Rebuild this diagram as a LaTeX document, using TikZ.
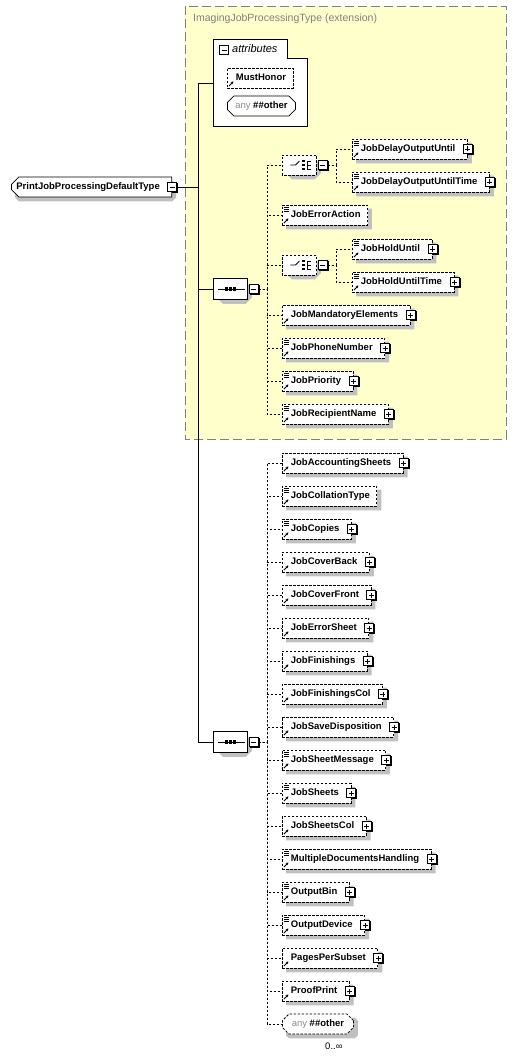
\documentclass[tikz,border=0pt]{standalone}
\usepackage{fontspec}
\setmainfont{Liberation Sans}
\usetikzlibrary{shapes.misc,arrows.meta}

\definecolor{extfill}{RGB}{255,255,204}
\definecolor{extline}{RGB}{128,128,128}
\definecolor{shadowgray}{RGB}{192,192,192}
\definecolor{anygray}{RGB}{140,140,140}

\pgfdeclarelayer{back}
\pgfdeclarelayer{shadow}
\pgfsetlayers{back,shadow,main}

\newcommand{\elemfont}{\fontsize{9.5}{11}\selectfont\bfseries}

\begin{document}
\begin{tikzpicture}[ x=1pt, y=-1pt,
  conn/.style={line width=0.8pt},
  dconn/.style={line width=0.8pt, dash pattern=on 2.5pt off 1.5pt},
  pmbox/.style={draw, solid, line width=0.8pt, fill=white, minimum size=9pt, inner sep=0pt},
  minusbox/.style={pmbox, path picture={\draw[solid, black, line width=0.8pt] ([xshift=2pt]path picture bounding box.west) -- ([xshift=-2pt]path picture bounding box.east);}},
  plusbox/.style={pmbox, path picture={\draw[solid, black, line width=0.8pt] ([xshift=2pt]path picture bounding box.west) -- ([xshift=-2pt]path picture bounding box.east)
      ([yshift=2pt]path picture bounding box.south) -- ([yshift=-2pt]path picture bounding box.north);}},
  refarrow/.style={path picture={\draw[solid, black, line width=0.9pt,-{Stealth[length=2.6pt,width=3pt]}] ([shift={(1.5,-2)}]path picture bounding box.south west) -- ++(4.5,-4.5);}},
  simparrow/.style={path picture={\draw[solid, black, line width=0.9pt,-{Stealth[length=2.6pt,width=3pt]}] ([shift={(1.5,-2)}]path picture bounding box.south west) -- ++(4.5,-4.5);
      \foreach \k in {2,4,6} \draw[solid, black, line width=0.7pt] ([shift={(1.5,\k)}]path picture bounding box.north west) -- ++(5.5,0);}},
  elem/.style={draw, dconn, fill=white, anchor=west, minimum height=20pt, inner sep=0pt, text height=7pt, text depth=2pt,
    font=\elemfont, execute at begin node=\hspace*{8.5pt}},
  nokids/.style={execute at end node=\hspace*{7pt}},
  kids/.style={execute at end node=\hspace*{12pt}, append after command={node[plusbox] (\tikzlastnode-p) at (\tikzlastnode.east) {}}},
  refel/.style={elem, nokids, refarrow},
  cplx/.style={elem, kids, refarrow},
  simp/.style={elem, nokids, simparrow},
  simpk/.style={elem, kids, simparrow},
  rootbox/.style={chamfered rectangle, chamfered rectangle corners={north west,south west}, chamfered rectangle xsep=4pt,
    draw, conn, fill=white, anchor=west, minimum height=20pt, inner sep=0pt, text height=7pt, text depth=2pt, font=\elemfont},
  octbox/.style={chamfered rectangle, chamfered rectangle xsep=6pt, draw, conn, fill=white, anchor=west,
    minimum width=34pt, minimum height=21pt, inner sep=0pt},
  seqbox/.style={octbox, path picture={\draw[solid, black, line width=1pt] ([xshift=5pt]path picture bounding box.west) -- ([xshift=-2pt]path picture bounding box.east);
      \foreach \d in {-4,0,4} \fill[black] ([xshift=\d pt]path picture bounding box.center) +(-1.6,-1.6) rectangle +(1.6,1.6);}},
  choicebox/.style={octbox, dconn, minimum height=20pt, path picture={
      \coordinate (cc) at ([xshift=1pt]path picture bounding box.center);
      \draw[solid, black, line width=0.9pt] ([xshift=-10pt]cc) -- ([xshift=-5pt]cc) -- ([shift={(-1,-4)}]cc);
      \foreach \d in {-4,0,4} {\fill[black] ([shift={(3,\d)}]cc) +(-1.3,-1.3) rectangle +(1.3,1.3);
        \draw[solid, black, line width=0.8pt] ([shift={(6.5,\d)}]cc) -- ++(4.5,0);}
      \draw[solid, black, line width=0.8pt] ([shift={(6.5,-4)}]cc) -- ([shift={(6.5,4)}]cc);}},
  anybox/.style={chamfered rectangle, chamfered rectangle xsep=3pt, draw, fill=white, anchor=west, minimum height=20pt,
    inner sep=0pt, text height=7pt, text depth=2pt, font=\elemfont}
]
\useasboundingbox (0,0) rectangle (517,1059);

% extension area
\begin{pgfonlayer}{back}
\draw[extline, fill=extfill, line width=0.9pt, dash pattern=on 9pt off 4pt] (185,6) rectangle (506,439);
\end{pgfonlayer}
\node[anchor=west, text=extline, font=\fontsize{10.5}{12}\selectfont, inner sep=0pt] (exthead) at (193,19)
  {ImagingJobProcessingType (extension)};

% attributes
\draw[conn, fill=white] (213,39) -- (287,39) -- (287,58) -- (307,58) -- (307,126) -- (213,126) -- cycle;
\node[minusbox] (attrm) at (224,50) {};
\node[anchor=west, inner sep=0pt, font=\fontsize{11}{12}\selectfont\itshape] (attrlbl) at (232,49) {attributes};
\node[refel] (musthonor) at (227,78) {MustHonor};
\node[anybox, conn, minimum width=68pt] (anyattr) at (227,106) {\textmd{\textcolor{anygray}{any}}\ \#\#other};
\coordinate (attrin) at (213,83);

% root and trunk
\node[rootbox] (root) at (11,187) {\hspace*{1pt}PrintJobProcessingDefaultType\hspace*{8pt}};
\node[minusbox] (rootm) at (root.east) {};
\draw[conn] (rootm.east) -- ++(22,0);

\node[seqbox] (seqA) at (213,289) {};
\node[minusbox] (seqAm) at ([xshift=6pt]seqA.east) {};
\node[seqbox] (seqB) at (213,742) {};
\node[minusbox] (seqBm) at ([xshift=6pt]seqB.east) {};
\draw[conn] (attrin) -- ++(-15,0) |- (seqB.west);
\draw[conn] (seqA.west) -- ++(-15,0);

% first sequence
\node[choicebox] (chA) at (282,165) {};
\node[minusbox] (chAm) at ([xshift=6pt]chA.east) {};
\node[simpk] (jdou) at (352,149) {JobDelayOutputUntil};
\node[simpk] (jdout) at (352,182) {JobDelayOutputUntilTime};
\node[simp] (jea) at (282,215) {JobErrorAction};
\node[choicebox] (chB) at (282,265) {};
\node[minusbox] (chBm) at ([xshift=6pt]chB.east) {};
\node[simpk] (jhu) at (352,249) {JobHoldUntil};
\node[simpk] (jhut) at (352,282) {JobHoldUntilTime};
\node[cplx] (jme) at (282,315) {JobMandatoryElements};
\node[simpk] (jpn) at (282,348) {JobPhoneNumber};
\node[simpk] (jpr) at (282,381) {JobPriority};
\node[simpk] (jrn) at (282,414) {JobRecipientName};

\foreach \n in {chA,jea,chB,jme,jpn,jpr,jrn}
  \draw[dconn] (seqAm.east) -| ([xshift=-15pt]\n.west) -- (\n.west);
\foreach \n in {jdou,jdout}
  \draw[dconn] (chAm.east) -| ([xshift=-16pt]\n.west) -- (\n.west);
\foreach \n in {jhu,jhut}
  \draw[dconn] (chBm.east) -| ([xshift=-16pt]\n.west) -- (\n.west);

% second sequence
\foreach \nm/\lbl/\sty [count=\i from 0] in {
    jas/JobAccountingSheets/cplx, jct/JobCollationType/simp, jcp/JobCopies/simpk,
    jcb/JobCoverBack/cplx, jcf/JobCoverFront/cplx, jes/JobErrorSheet/cplx,
    jfi/JobFinishings/cplx, jfc/JobFinishingsCol/cplx, jsd/JobSaveDisposition/cplx,
    jsm/JobSheetMessage/simpk, jsh/JobSheets/simpk, jsc/JobSheetsCol/cplx,
    mdh/MultipleDocumentsHandling/simpk, obn/OutputBin/simpk, odv/OutputDevice/simpk,
    pps/PagesPerSubset/cplx, ppr/ProofPrint/cplx}
  \node[\sty] (\nm) at (282,463+33*\i) {\lbl};
\node[anybox, dconn, minimum width=71pt] (anyel) at (282,1024) {\textmd{\textcolor{anygray}{any}}\ \#\#other};
\node[inner sep=0pt, font=\fontsize{9.5}{11}\selectfont] (anyocc) at ([shift={(16,12)}]anyel.south) {0..∞};

\foreach \n in {jas,jct,jcp,jcb,jcf,jes,jfi,jfc,jsd,jsm,jsh,jsc,mdh,obn,odv,pps,ppr,anyel}
  \draw[dconn] (seqBm.east) -| ([xshift=-15pt]\n.west) -- (\n.west);

% shadows
\begin{pgfonlayer}{shadow}
\foreach \n/\c in {root/4, musthonor/0, anyattr/3, seqA/6, seqB/6, chA/6, chB/6,
    jdou/0, jdout/0, jea/0, jhu/0, jhut/0, jme/0, jpn/0, jpr/0, jrn/0,
    jas/0, jct/0, jcp/0, jcb/0, jcf/0, jes/0, jfi/0, jfc/0, jsd/0, jsm/0, jsh/0, jsc/0,
    mdh/0, obn/0, odv/0, pps/0, ppr/0, anyel/3}
  \fill[shadowgray] ([shift={(4+\c,4)}]\n.west |- \n.north) -- ([shift={(4-\c,4)}]\n.east |- \n.north)
    -- ([shift={(4,4+\c)}]\n.east |- \n.north) -- ([shift={(4,4-\c)}]\n.east |- \n.south)
    -- ([shift={(4-\c,4)}]\n.east |- \n.south) -- ([shift={(4+\c,4)}]\n.west |- \n.south)
    -- ([shift={(4,4-\c)}]\n.west |- \n.south) -- ([shift={(4,4+\c)}]\n.west |- \n.north) -- cycle;
\foreach \n in {rootm, attrm, seqAm, seqBm, chAm, chBm,
    jdou-p, jdout-p, jhu-p, jhut-p, jme-p, jpn-p, jpr-p, jrn-p,
    jas-p, jcp-p, jcb-p, jcf-p, jes-p, jfi-p, jfc-p, jsd-p, jsm-p, jsh-p, jsc-p,
    mdh-p, obn-p, odv-p, pps-p, ppr-p}
  \fill[black] ([shift={(1.2,1.2)}]\n.north west) rectangle ([shift={(1.2,1.2)}]\n.south east);
\end{pgfonlayer}

\end{tikzpicture}
\end{document}
